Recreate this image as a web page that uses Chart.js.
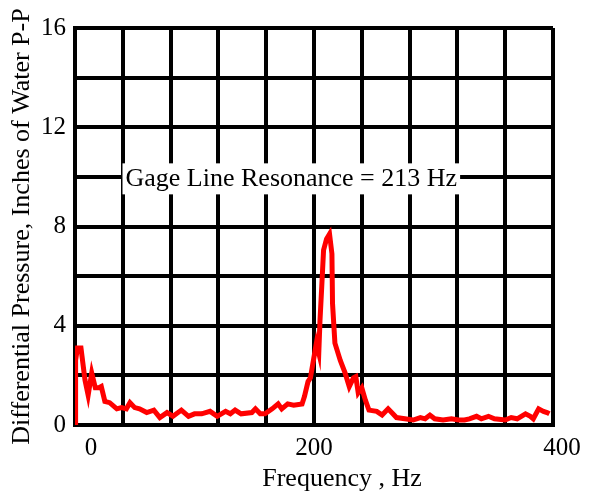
<!DOCTYPE html>
<html>
<head>
<meta charset="utf-8">
<script src="https://cdn.jsdelivr.net/npm/chart.js@4/dist/chart.umd.min.js"></script>
<style>
  html, body { margin: 0; padding: 0; background: #fff; }
  #wrap { width: 592px; height: 494px; }
</style>
</head>
<body>
<div id="wrap"><canvas id="myChart"></canvas></div>
<script>
// data
const freq = [0, 0.5, 2, 5, 8.4, 11, 14, 17, 20, 22, 25, 29, 35, 39, 43, 46, 50, 54, 60, 66,
    71, 77, 82, 89, 95, 100, 106, 113, 119, 126, 130, 134, 139, 148, 151, 155, 159, 165, 170, 173,
    178, 183, 190, 192, 195, 197, 199.5, 202, 204, 205, 206.5, 208, 210.5, 213, 215, 215.5, 217.5, 222, 226, 229.5,
    233, 235, 237, 240, 243, 246, 252.5, 257, 262, 266, 269, 276, 283, 289, 293, 297, 301, 308, 315, 321,
    326, 330, 336, 340, 346, 351, 360, 365, 370, 377, 381, 383.5, 388, 392, 395, 397];
const pressure = [0, 2.6, 3.1, 3.1, 1.8, 1.2, 2.1, 1.5, 1.5, 1.55, 0.95, 0.9, 0.65, 0.7, 0.65, 0.9, 0.7, 0.65, 0.5, 0.6,
    0.3, 0.5, 0.35, 0.6, 0.35, 0.45, 0.45, 0.55, 0.35, 0.55, 0.45, 0.6, 0.45, 0.5, 0.65, 0.45, 0.45, 0.65, 0.85, 0.65,
    0.85, 0.8, 0.85, 1.15, 1.75, 1.9, 2.6, 3.3, 2.9, 4.2, 5.6, 7.05, 7.5, 7.7, 6.9, 4.9, 3.3, 2.6, 2.1, 1.55,
    1.9, 1.95, 1.3, 1.5, 1.0, 0.6, 0.55, 0.4, 0.65, 0.45, 0.3, 0.25, 0.2, 0.3, 0.25, 0.4, 0.25, 0.2, 0.25, 0.2,
    0.2, 0.25, 0.35, 0.25, 0.35, 0.25, 0.2, 0.3, 0.25, 0.45, 0.35, 0.25, 0.65, 0.55, 0.5, 0.45];
const xTickLabels = [0, 200, 400];
const yTickLabels = [0, 4, 8, 12, 16];
const note = {text: "Gage Line Resonance = 213 Hz", x: 181, y: 9.9};

const serif = "'Liberation Serif', 'Times New Roman', serif";

// draws the x labels, x title and the boxed note
const extras = {
    id: "extras",
    afterDraw(chart) {
        const c = chart.ctx;
        const xs = chart.scales.x;
        const ys = chart.scales.y;
        const nudge = {0: 16, 200: 0, 400: 9};
        c.save();
        c.fillStyle = "#000";
        c.font = "25px " + serif;
        c.textAlign = "center";
        c.textBaseline = "middle";
        xTickLabels.forEach(v => {
            c.fillText(String(v), xs.getPixelForValue(v) + nudge[v], 448);
        });
        c.font = "26px " + serif;
        c.fillText("Frequency , Hz", xs.getPixelForValue(0) + 267, 479);

        const nx = xs.getPixelForValue(note.x);
        const ny = ys.getPixelForValue(note.y);
        const w = c.measureText(note.text).width + 6;
        c.fillStyle = "#fff";
        c.fillRect(nx - w / 2, ny - 16, w, 31);
        c.fillStyle = "#000";
        c.fillText(note.text, nx, ny);
        c.restore();
    }
};

const ctx = document.getElementById("myChart");

new Chart(ctx, {
type: "line",
data: {
    datasets: [{
        data: freq.map((f, i) => ({x: f, y: pressure[i]})),
        borderColor: "#ff0000",
        borderWidth: 5,
        pointRadius: 0,
        tension: 0,
        fill: false,
    }]
},
options: {
    responsive: true,
    maintainAspectRatio: false,
    animation: false,
    layout: {
        padding: {top: 28, right: 39, left: 0, bottom: 0}
    },
    plugins: {
        tooltip: {enabled: false},
        legend: {display: false},
    },
    scales: {
        x: {
            type: "linear",
            min: 0,
            max: 400,
            grid: {color: "#000", lineWidth: 4, drawTicks: false},
            border: {color: "#000", width: 4},
            ticks: {stepSize: 40, display: false},
            afterFit(scale) { scale.height = 69; },
        },
        y: {
            min: 0,
            max: 16,
            grid: {color: "#000", lineWidth: 4, drawTicks: false},
            border: {color: "#000", width: 4},
            ticks: {
                stepSize: 2,
                padding: 9,
                color: "#000",
                font: {family: serif, size: 25},
                callback: v => yTickLabels.includes(v) ? String(v) : "",
            },
            title: {
                display: true,
                text: "Differential Pressure, Inches of Water P-P",
                color: "#000",
                font: {family: serif, size: 26},
                padding: {top: 7, bottom: 0},
            },
            afterFit(scale) { scale.width = 75; },
        }
    }
},
plugins: [extras]
});
</script>
</body>
</html>
